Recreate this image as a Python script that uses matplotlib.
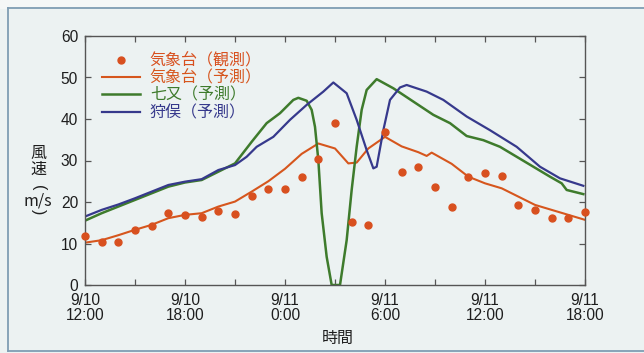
import matplotlib.pyplot as plt
from matplotlib.lines import Line2D
from matplotlib.patches import Rectangle

plt.rcParams['font.family'] = ['Liberation Sans', 'Noto Sans CJK JP', 'DejaVu Sans']

# hours since 9/10 12:00
tick_hours = [0, 6, 12, 18, 24, 30]
tick_labels = ['9/10\n12:00', '9/10\n18:00', '9/11\n0:00', '9/11\n6:00', '9/11\n12:00', '9/11\n18:00']

# observed (気象台 観測), hourly
obs_t = list(range(31))
obs_v = [11.8, 10.4, 10.3, 13.2, 14.2, 17.3, 16.9, 16.3, 17.9, 17.1,
         21.4, 23.1, 23.1, 26.1, 30.4, 39.0, 15.1, 14.5, 36.9, 27.2,
         28.4, 23.7, 18.9, 26.0, 27.1, 26.2, 19.2, 18.1, 16.1, 16.1, 17.5]

# 気象台 予測
kisho_t = [0, 1, 2, 3, 4, 5, 6, 7, 8, 9, 10, 11, 12, 13, 14, 15, 15.8, 16.3, 17,
           18, 19, 20, 20.5, 20.8, 22, 23, 24, 25, 26, 27, 28, 29, 30]
kisho_v = [10.2, 10.8, 12.0, 13.3, 14.5, 16.1, 16.9, 17.3, 18.9, 20.1, 22.5, 25.0,
           28.0, 31.6, 34.1, 32.9, 29.3, 29.5, 32.9, 35.7, 33.4, 32.0, 31.1, 31.9,
           29.2, 26.1, 24.5, 23.3, 21.3, 19.3, 18.1, 16.9, 15.7]

# 七又 予測
shichi_t = [0, 1, 2, 3, 4, 5, 6, 7, 8, 9, 10, 10.9, 11.7, 12.5, 12.8, 13.3, 13.6,
            13.8, 14.0, 14.2, 14.5, 14.8, 15.3, 15.7, 16.0, 16.3, 16.6, 16.9, 17.5,
            18.5, 19.7, 20.9, 21.9, 22.9, 23.9, 24.9, 25.9, 26.9, 27.9, 28.6, 28.9, 29.9]
shichi_v = [15.5, 17.3, 18.9, 20.5, 22.1, 23.7, 24.7, 25.3, 27.3, 29.3, 34.5, 39.0,
            41.4, 44.6, 45.1, 44.4, 42.2, 38.1, 30.1, 17.3, 6.8, 0, 0, 10.8, 22.9,
            33.3, 42.2, 47.0, 49.6, 47.4, 44.2, 41.0, 39.0, 35.9, 34.9, 33.3, 30.9,
            28.5, 26.1, 24.5, 22.9, 21.9]

# 狩俣 予測
kari_t = [0, 1, 2, 3, 4, 5, 6, 7, 8, 9, 9.7, 10.3, 11.3, 12.3, 13.3, 14.3, 14.9,
          15.7, 16.3, 16.9, 17.3, 17.5, 17.9, 18.3, 18.9, 19.3, 20.5, 21.5, 22.9,
          24.3, 25.9, 27.3, 28.5, 29.9]
kari_v = [16.5, 18.1, 19.4, 20.9, 22.5, 24.1, 24.9, 25.5, 27.7, 28.9, 30.9, 33.3,
          35.7, 39.8, 43.4, 46.6, 48.8, 46.2, 39.8, 32.5, 28.1, 28.5, 37.3, 44.6,
          47.6, 48.2, 46.6, 44.6, 40.6, 37.3, 33.3, 28.5, 25.7, 23.9]

bg = '#ecf2f2'
fig = plt.figure(figsize=(6.44, 3.53), dpi=100, facecolor=bg)
fig.add_artist(Rectangle((0, 1 - 8/353), 1, 8/353, transform=fig.transFigure,
                         color='#f5f7f7', zorder=0))
frame = dict(transform=fig.transFigure, color='#7f9db3', lw=1.3)
fig.add_artist(Line2D([8/644, 1], [1 - 8/353, 1 - 8/353], **frame))
fig.add_artist(Line2D([8/644, 8/644], [1 - 8/353, 2/353], **frame))
fig.add_artist(Line2D([8/644, 1], [2/353, 2/353], **frame))

ax = fig.add_axes([85/644, 68/353, 500/644, 249/353])
ax.set_facecolor('none')

ax.plot(obs_t, obs_v, 'o', color='#d8501f', ms=5, zorder=5, clip_on=False,
        label='気象台（観測）')
ax.plot(kisho_t, kisho_v, color='#d6561d', lw=1.5, label='気象台（予測）')
ax.plot(shichi_t, shichi_v, color='#3e7b2c', lw=1.8, label='七又（予測）')
ax.plot(kari_t, kari_v, color='#36398c', lw=1.6, label='狩俣（予測）')

ax.set_xlim(0, 30)
ax.set_ylim(0, 60)
ax.set_xticks(tick_hours)
ax.set_xticklabels(tick_labels)
ax.set_xticks(range(0, 31, 3), minor=True)
ax.set_yticks(range(0, 61, 10))
ax.tick_params(which='both', direction='in', top=True, right=True, length=4,
               width=0.9, colors='#555555', labelcolor='#1e1e1e', labelsize=11.2)
ax.tick_params(axis='x', pad=6)
ax.tick_params(axis='y', pad=5)
for lbl in ax.get_xticklabels():
    lbl.set_linespacing(0.95)
for s in ax.spines.values():
    s.set_color('#555555')
    s.set_linewidth(1.0)

ax.legend(loc='upper left', bbox_to_anchor=(17/500, 1 - 17/249), frameon=False,
          fontsize=11.5, handlelength=2.4, handletextpad=0.6, labelspacing=0.12,
          borderpad=0, borderaxespad=0, labelcolor='linecolor')

# vertical y label: 風 速 （m/s） with the brackets turned
cjk = ['Noto Sans CJK JP', 'DejaVu Sans']
for txt, y in [('風', 153), ('速', 169), ('m/s', 201)]:
    fig.text(38/644, 1 - y/353, txt, ha='center', va='center', fontsize=11.5,
             color='#1e1e1e', family=cjk)
for txt, y in [('(', 188), (')', 212)]:
    fig.text(38/644, 1 - y/353, txt, ha='center', va='center', fontsize=11.5,
             color='#1e1e1e', rotation=270, rotation_mode='anchor')
fig.text(338/644, 1 - 338/353, '時間', ha='center', va='center', fontsize=11.5,
         color='#1e1e1e', family=cjk)

fig.savefig('out.png', dpi=100, facecolor=bg)
